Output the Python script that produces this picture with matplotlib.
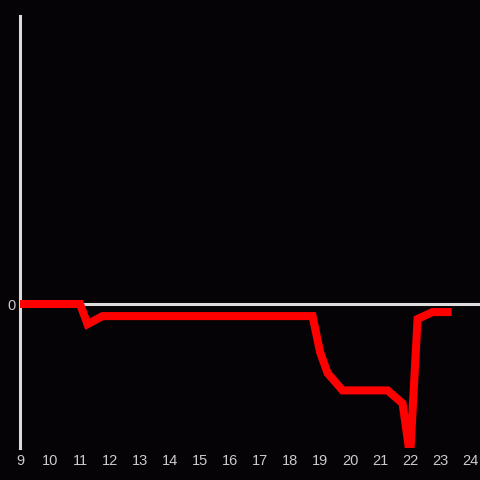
import matplotlib
matplotlib.use("Agg")
import matplotlib.pyplot as plt

# heures (pas de 15 min) et valeurs
heures = [9, 11, 11.25, 11.75, 18.75, 19.0, 19.25, 19.75, 21.25, 21.75, 22.0, 22.25, 22.75, 23.25]
valeurs = [0, 0, -0.7, -0.42, -0.42, -1.67, -2.4, -3.0, -3.0, -3.45, -5.3, -0.52, -0.28, -0.28]
ticks_x = list(range(9, 25))

fond = "#050305"
gris = "#dcdcdc"

fig = plt.figure(figsize=(4.8, 4.8), dpi=100, facecolor=fond)
ax = fig.add_axes([20 / 480, 32 / 480, 460 / 480, 432 / 480])
ax.set_facecolor(fond)

ax.axhline(0, color=gris, lw=2.2, zorder=1)
ax.plot(heures, valeurs, color="#ff0000", lw=5.8, solid_joinstyle="miter", zorder=3)

ax.set_xlim(9, 24.33)
ax.set_ylim(-5, 10)
ax.set_xticks(ticks_x)
ax.set_xticklabels([str(t) for t in ticks_x])
ax.set_yticks([0])
ax.set_yticklabels(["0"])
ax.tick_params(axis="both", length=0, colors="#cccccc", labelsize=10.5)
ax.tick_params(axis="x", pad=4)
ax.tick_params(axis="y", pad=3)
for lab in ax.get_xticklabels() + ax.get_yticklabels():
    lab.set_family("Liberation Sans")

for s in ["top", "right", "bottom"]:
    ax.spines[s].set_visible(False)
ax.spines["left"].set_color(gris)
ax.spines["left"].set_linewidth(2.2)

fig.savefig("out.png", dpi=100, facecolor=fond)
